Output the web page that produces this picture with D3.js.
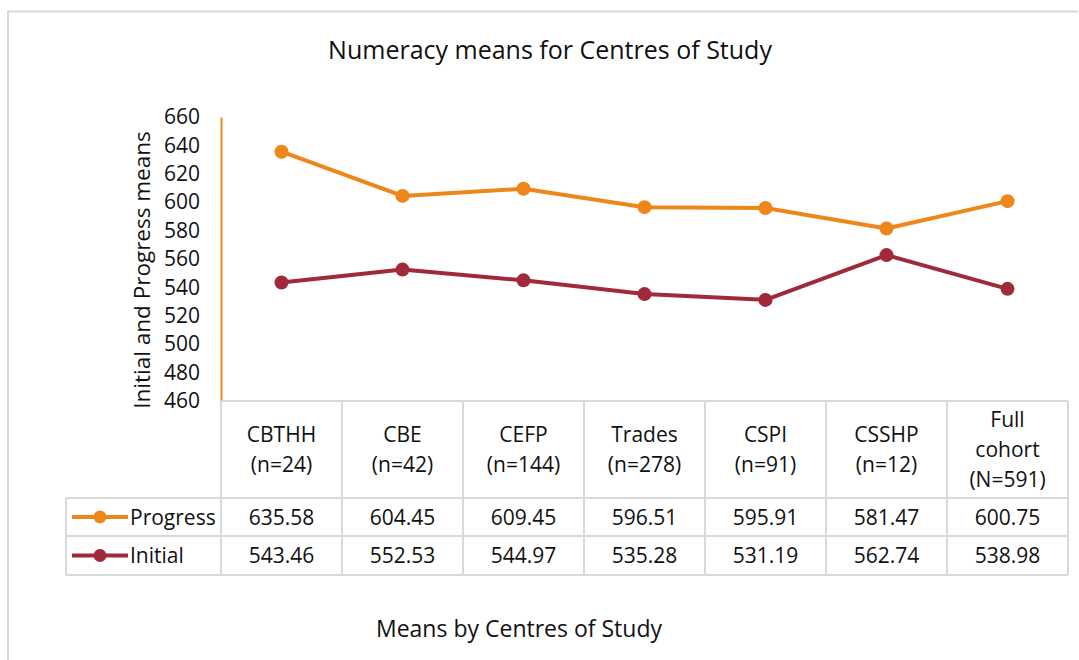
<!DOCTYPE html>
<html>
<head>
<meta charset="utf-8">
<script src="https://cdn.jsdelivr.net/npm/d3@7"></script>
<style>
  body { margin: 0; background: #fff; }
  svg { display: block; font-family: "Open Sans", sans-serif; }
</style>
</head>
<body>
<svg id="chart"></svg>
<script>
// data
const categories = ["CBTHH (n=24)", "CBE (n=42)", "CEFP (n=144)", "Trades (n=278)", "CSPI (n=91)", "CSSHP (n=12)", "Full cohort (N=591)"];
const categoryLines = [["CBTHH", "(n=24)"], ["CBE", "(n=42)"], ["CEFP", "(n=144)"], ["Trades", "(n=278)"], ["CSPI", "(n=91)"], ["CSSHP", "(n=12)"], ["Full", "cohort", "(N=591)"]];
const progress = [635.58, 604.45, 609.45, 596.51, 595.91, 581.47, 600.75];
const initial = [543.46, 552.53, 544.97, 535.28, 531.19, 562.74, 538.98];
const yTicks = [460, 480, 500, 520, 540, 560, 580, 600, 620, 640, 660];

const series = [
    {name: "Progress", values: progress, color: "#ef861a"},
    {name: "Initial", values: initial, color: "#a0293a"}
];

const width = 1079;
const height = 660;
const plot = {left: 221, right: 1068, top: 117, bottom: 401};
const tableLeft = 66;
const rowLines = [401, 498, 536, 575];
const gridColor = "#d9d9d9";
const fontSize = "21px";

const svg = d3.select("#chart")
    .attr("width", width)
    .attr("height", height);

// outer chart border
svg.append("path")
    .attr("d", `M8,${height} V11.5 H1078`)
    .attr("fill", "none")
    .attr("stroke", gridColor)
    .attr("stroke-width", 2);

svg.append("text")
    .text("Numeracy means for Centres of Study")
    .attr("x", 550)
    .attr("y", 59)
    .attr("text-anchor", "middle")
    .attr("font-size", "25px")
    .attr("fill", "#111");

const x = d3.scaleBand()
    .domain(categories)
    .range([plot.left, plot.right]);

const y = d3.scaleLinear()
    .domain([460, 660])
    .range([plot.bottom, plot.top]);

// y axis
const yAxis = svg.append("g")
    .attr("transform", `translate(${plot.left}, 0)`)
    .call(d3.axisLeft(y).tickValues(yTicks).tickSize(0).tickPadding(21));
yAxis.select(".domain").attr("stroke", "#ef861a").attr("stroke-width", 2);
yAxis.selectAll("text")
    .attr("font-size", fontSize)
    .attr("font-family", "'Open Sans', sans-serif")
    .attr("fill", "#111");

svg.append("text")
    .text("Initial and Progress means")
    .attr("transform", `translate(150, ${(plot.top + plot.bottom) / 2 + 11}) rotate(-90)`)
    .attr("text-anchor", "middle")
    .attr("font-size", "22.5px")
    .attr("fill", "#111");

// data table grid
const grid = svg.append("g").attr("stroke", gridColor).attr("stroke-width", 2);
rowLines.forEach((ry, i) => {
    grid.append("line")
        .attr("x1", i === 0 ? plot.left : tableLeft)
        .attr("x2", plot.right)
        .attr("y1", ry).attr("y2", ry);
});
const colEdges = categories.map(c => x(c)).concat([plot.right]);
colEdges.forEach(cx => {
    grid.append("line")
        .attr("x1", cx).attr("x2", cx)
        .attr("y1", rowLines[0]).attr("y2", rowLines[3]);
});
grid.append("line")
    .attr("x1", tableLeft).attr("x2", tableLeft)
    .attr("y1", rowLines[1]).attr("y2", rowLines[3]);

// header labels
const header = svg.append("g")
    .attr("font-size", fontSize)
    .attr("fill", "#111")
    .attr("text-anchor", "middle");
categories.forEach((c, i) => {
    const lines = categoryLines[i];
    const mid = (rowLines[0] + rowLines[1]) / 2;
    const start = mid - (lines.length - 1) * 15 + 7;
    lines.forEach((l, j) => {
        header.append("text")
            .text(l)
            .attr("x", x(c) + x.bandwidth() / 2)
            .attr("y", start + j * 30);
    });
});

// value rows + legend keys
series.forEach((s, r) => {
    const top = rowLines[r + 1];
    const mid = (top + rowLines[r + 2]) / 2;
    svg.append("line")
        .attr("x1", 72).attr("x2", 128)
        .attr("y1", mid).attr("y2", mid)
        .attr("stroke", s.color)
        .attr("stroke-width", 4);
    svg.append("circle")
        .attr("cx", 100).attr("cy", mid).attr("r", 6.5)
        .attr("fill", s.color);
    svg.append("text")
        .text(s.name)
        .attr("x", 130)
        .attr("y", mid + 7.5)
        .attr("font-size", fontSize)
        .attr("fill", "#111");
    svg.selectAll(null)
        .data(s.values)
        .enter()
        .append("text")
        .text(v => v.toFixed(2))
        .attr("x", (v, i) => x(categories[i]) + x.bandwidth() / 2)
        .attr("y", mid + 7.5)
        .attr("text-anchor", "middle")
        .attr("font-size", fontSize)
        .attr("fill", "#111");
});

// lines and markers
const line = d3.line()
    .x((v, i) => x(categories[i]) + x.bandwidth() / 2)
    .y(v => y(v));

series.forEach(s => {
    svg.append("path")
        .datum(s.values)
        .attr("d", line)
        .attr("fill", "none")
        .attr("stroke", s.color)
        .attr("stroke-width", 4)
        .attr("stroke-linejoin", "round");
    svg.selectAll(null)
        .data(s.values)
        .enter()
        .append("circle")
        .attr("cx", (v, i) => x(categories[i]) + x.bandwidth() / 2)
        .attr("cy", v => y(v))
        .attr("r", 7)
        .attr("fill", s.color);
});

svg.append("text")
    .text("Means by Centres of Study")
    .attr("x", 519)
    .attr("y", 637)
    .attr("text-anchor", "middle")
    .attr("font-size", "23px")
    .attr("fill", "#111");
</script>
</body>
</html>
